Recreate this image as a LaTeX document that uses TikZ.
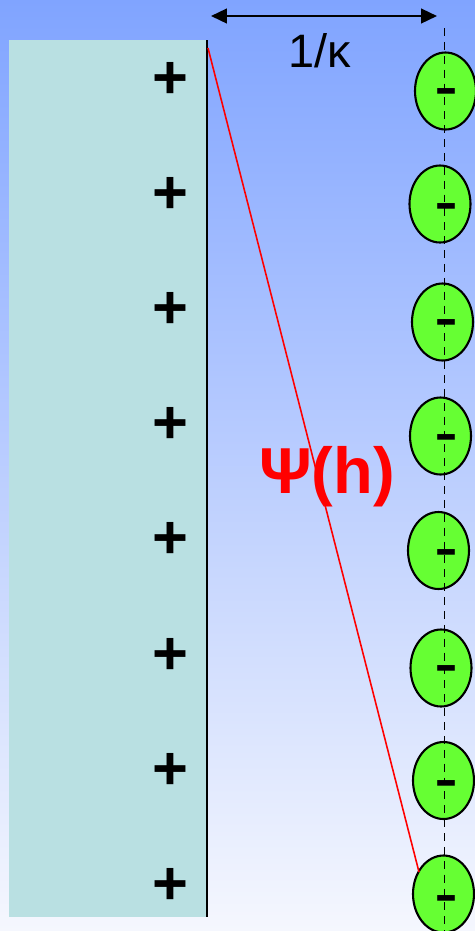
\documentclass[tikz,border=0pt]{standalone}
\usepackage{fontspec}
\setmainfont{Liberation Sans}
\usetikzlibrary{arrows.meta,shapes.geometric}
\definecolor{skytop}{HTML}{80A4FF}
\definecolor{skymid}{HTML}{C4D2FB}
\definecolor{skybot}{HTML}{F5F7FE}
\definecolor{plate}{HTML}{B9E0E2}
\definecolor{iongreen}{HTML}{66FF33}
\definecolor{potred}{HTML}{FF0000}

\begin{document}
\begin{tikzpicture}[x=0.02cm,y=-0.02cm,>={Triangle[length=9pt,width=8.3pt]},
  ion/.style={ellipse,draw=black,line width=1.2pt,fill=iongreen,
    minimum width=1.22cm,minimum height=1.54cm,inner sep=0pt},
  pluscharge/.style={font=\bfseries\fontsize{35}{35}\selectfont,inner sep=0pt},
  minuscharge/.style={font=\fontsize{41}{41}\selectfont,inner sep=0pt,anchor=base}]
  \useasboundingbox (0,0) rectangle (475,931);

  % Background of the solution
  \shade[top color=skytop,middle color=skymid,bottom color=skybot]
    (0,0) rectangle (475,931);

  % Charged surface
  \fill[plate] (9,40) rectangle (206,917);
  \draw[line width=1.2pt] (207,40)--(207,917);
  \foreach \i in {0,...,7}
    \node[pluscharge] (plus\i) at (170,{80+115.2*\i}) {+};

  % Counter-ions on the outer plane
  \foreach \x/\y [count=\i] in {445.5/91,440/204,442.5/322,440.5/436,
                                438.5/550.5,441/668,443.5/780.5,443.5/894}
    \node[ion] (ion\i) at (\x,\y) {};
  \coordinate (axtop) at (444.5,28);
  \coordinate (axbot) at (444.5,931);
  \draw[line width=1.1pt,dash pattern=on 4.5pt off 3.4pt] (axtop)--(axbot);
  \foreach \i in {1,...,8}
    \node[minuscharge] (minus\i) at (446,{110.5+115.3*(\i-1)}) {-};

  % Debye length
  \coordinate (wall) at (211,16);
  \coordinate (plane) at (437,16);
  \draw[<->,line width=1.2pt] (wall)--(plane);
  \node[font=\fontsize{26.7}{30}\selectfont,anchor=base] (kappa) at (320,67) {1/κ};

  % Potential drop
  \coordinate (psitop) at (208,48);
  \coordinate (psibot) at (419,872);
  \draw[potred,line width=0.9pt] (psitop)--(psibot);
  \node[potred,font=\bfseries\fontsize{37}{40}\selectfont,anchor=base] (psi)
    at (327,493) {Ψ(h)};
\end{tikzpicture}
\end{document}
